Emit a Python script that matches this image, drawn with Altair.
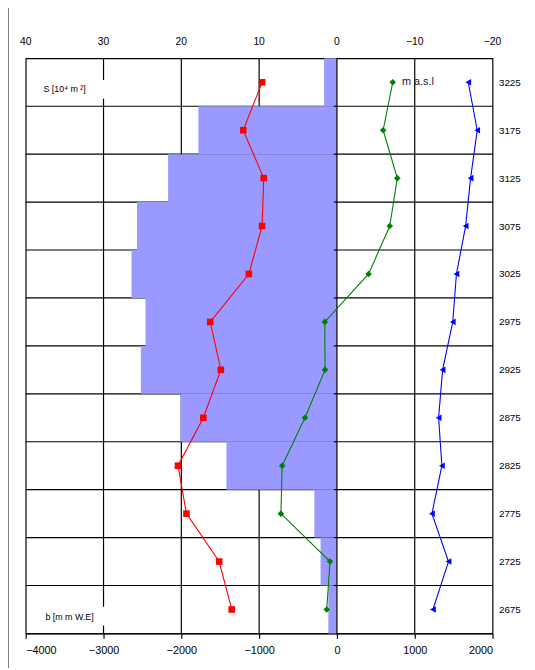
import altair as alt
import pandas as pd

# ---- data ----
elev = [3225, 3175, 3125, 3075, 3025, 2975, 2925, 2875, 2825, 2775, 2725, 2675]
area = [1.65, 17.8, 21.7, 25.7, 26.4, 24.6, 25.2, 20.1, 14.2, 2.9, 2.1, 1.1]  # S [10^4 m2]
b_summer = [-962, -1204, -941, -962, -1132, -1628, -1492, -1717, -2043, -1934, -1514, -1352]
b_net = [717, 594, 776, 679, 407, -156, -153, -411, -704, -720, -89, -131]
b_winter = [1688, 1803, 1718, 1654, 1536, 1489, 1358, 1307, 1349, 1221, 1434, 1234]

x_ticks = [-4000, -3000, -2000, -1000, 0, 1000, 2000]
x_grid = [-3000, -2000, -1000, 1000]
y_grid = [2700, 2750, 2800, 2850, 2900, 2950, 3000, 3050, 3100, 3150, 3200]

W, H = 474, 584
FONT = "Liberation Sans"

xs = alt.Scale(domain=[-4000, 2000], nice=False, zero=False)
ys = alt.Scale(domain=[2650, 3250], nice=False, zero=False)

X_AX = alt.Axis(orient="bottom", values=x_ticks, format="d", grid=False,
                domainColor="black", domainWidth=1.2, tickColor="black",
                tickSize=5, tickWidth=1.2, labelFont=FONT, labelFontSize=11,
                labelColor="black", labelPadding=6, title=None)
Y_AX = alt.Axis(orient="right", values=elev, format="d", grid=False,
                domain=False, ticks=False, labelFont=FONT, labelFontSize=10,
                labelColor="black", labelPadding=6, title=None)


def X(field):
    return alt.X(field, scale=xs, axis=X_AX)


def Y(field):
    return alt.Y(field, scale=ys, axis=Y_AX)


bars_df = pd.DataFrame({"elev": elev, "area": area})
series_df = pd.concat([
    pd.DataFrame({"elev": elev, "b": b_summer, "s": "summer"}),
    pd.DataFrame({"elev": elev, "b": b_net, "s": "net"}),
    pd.DataFrame({"elev": elev, "b": b_winter, "s": "winter"}),
])
vg_df = pd.DataFrame({"x": x_grid})
hg_df = pd.DataFrame({"y": y_grid})
xt_df = pd.DataFrame({"x": x_ticks})
one = pd.DataFrame({"v": [0]})

vgrid = alt.Chart(vg_df).mark_rule(color="black", strokeWidth=1.2).encode(
    x=X("x:Q"), y=alt.value(0), y2=alt.value(H))
hgrid = alt.Chart(hg_df).mark_rule(color="black", strokeWidth=1.2).encode(
    y=Y("y:Q"), x=alt.value(0), x2=alt.value(W))

bars = alt.Chart(bars_df).transform_calculate(
    lo="datum.elev - 25", hi="datum.elev + 25", xl="-datum.area * 100", x0="0"
).mark_rect(color="#9999FF").encode(
    x=X("xl:Q"), x2="x0:Q", y=Y("lo:Q"), y2="hi:Q")

zero = alt.Chart(one).mark_rule(color="black", strokeWidth=1.2).encode(
    x=X("v:Q"), y=alt.value(0), y2=alt.value(H))
zticks = alt.Chart(hg_df).transform_calculate(x0="0", x1="-40").mark_rule(
    color="black", strokeWidth=1.2).encode(y=Y("y:Q"), x=X("x0:Q"), x2="x1:Q")

# white boxes behind in-plot labels
box1 = alt.Chart(one).mark_rect(color="white").encode(
    x=alt.value(14), x2=alt.value(84), y=alt.value(22), y2=alt.value(41))
box2 = alt.Chart(one).mark_rect(color="white").encode(
    x=alt.value(16), x2=alt.value(88), y=alt.value(557), y2=alt.value(576))

colors = alt.Scale(domain=["summer", "net", "winter"], range=["#FF0000", "#008000", "#0000FF"])
shapes = alt.Scale(domain=["summer", "net", "winter"], range=["square", "diamond", "triangle-left"])
sizes = alt.Scale(domain=["summer", "net", "winter"], range=[45, 45, 60])

lines = alt.Chart(series_df).mark_line(strokeWidth=1.1).encode(
    x=X("b:Q"), y=Y("elev:Q"),
    color=alt.Color("s:N", scale=colors, legend=None),
    detail="s:N",
    order=alt.Order("elev:Q"),
)
points = alt.Chart(series_df).mark_point(filled=True, opacity=1).encode(
    x=X("b:Q"), y=Y("elev:Q"),
    color=alt.Color("s:N", scale=colors, legend=None),
    shape=alt.Shape("s:N", scale=shapes, legend=None),
    size=alt.Size("s:N", scale=sizes, legend=None),
)

top_labels = alt.Chart(xt_df).transform_calculate(lab="format(-datum.x / 100, 'd')").mark_text(
    font=FONT, fontSize=10.5, color="black", baseline="middle").encode(
    x=X("x:Q"), y=alt.value(-17), text="lab:N")

txt_s = alt.Chart(pd.DataFrame({"t": ["S  [10⁴ m ²]"]})).mark_text(
    font=FONT, fontSize=9, color="black", align="left", baseline="middle").encode(
    x=alt.value(18), y=alt.value(31), text="t:N")
txt_b = alt.Chart(pd.DataFrame({"t": ["b  [m m  W.E]"]})).mark_text(
    font=FONT, fontSize=9, color="black", align="left", baseline="middle").encode(
    x=alt.value(20), y=alt.value(567), text="t:N")
txt_m = alt.Chart(pd.DataFrame({"t": ["m a.s.l"]})).mark_text(
    font=FONT, fontSize=11, color="#222222", align="left", baseline="middle").encode(
    x=alt.value(382), y=alt.value(24), text="t:N")

border = alt.Chart(one).mark_rule(color="black", strokeWidth=1).encode(
    x=alt.value(-18), y=alt.value(-54), y2=alt.value(H + 40))

chart = alt.layer(
    vgrid, hgrid, bars, zero, zticks, box1, box2, lines, points, top_labels,
    txt_s, txt_b, txt_m, border
).properties(
    width=W, height=H,
    autosize=alt.AutoSizeParams(type="none"),
    padding={"left": 18, "top": 46, "right": 35, "bottom": 30},
).configure_view(stroke="black", strokeWidth=1.2)

chart.save("out.html", embed_options={"renderer": "svg", "actions": False})
